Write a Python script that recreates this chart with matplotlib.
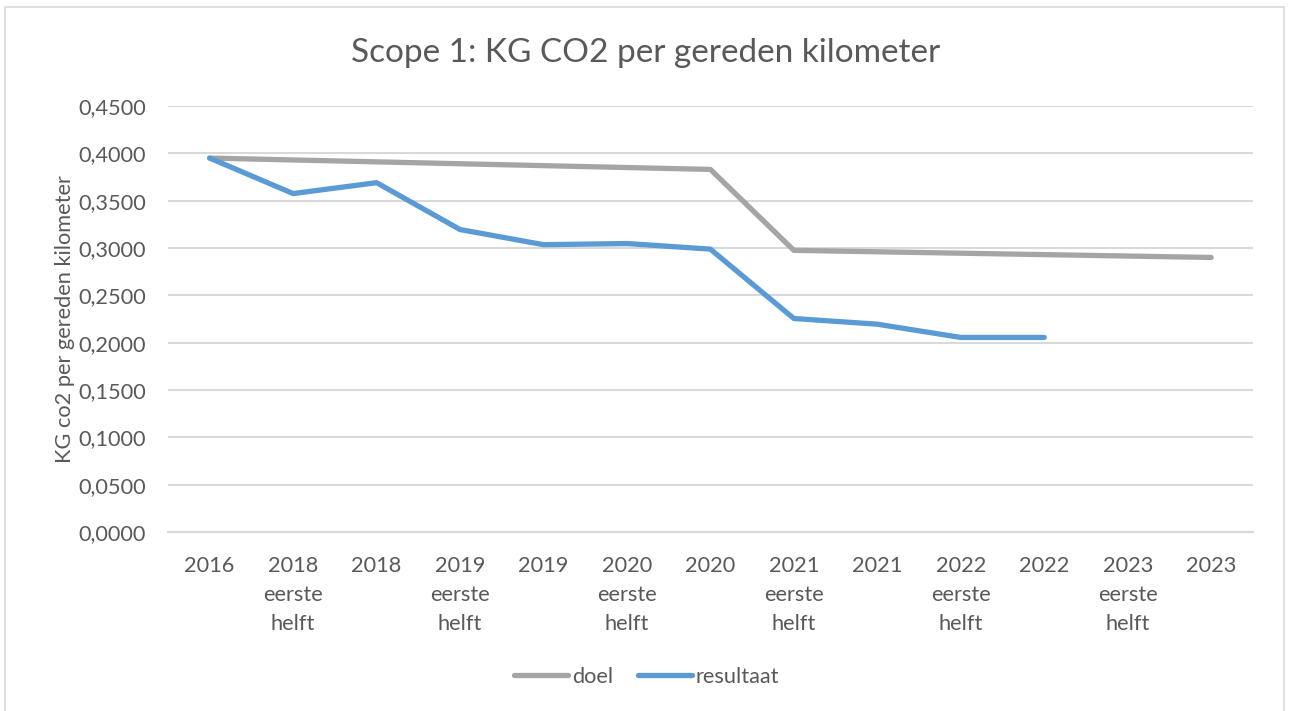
import matplotlib.pyplot as plt
from matplotlib.patches import Rectangle
from matplotlib.ticker import FuncFormatter

plt.rcParams['font.family'] = ['Lato', 'DejaVu Sans']

categories = ['2016', '2018\neerste\nhelft', '2018', '2019\neerste\nhelft', '2019',
              '2020\neerste\nhelft', '2020', '2021\neerste\nhelft', '2021',
              '2022\neerste\nhelft', '2022', '2023\neerste\nhelft', '2023']
doel = [0.395, 0.393, 0.391, 0.389, 0.387, 0.385, 0.383,
        0.2975, 0.2960, 0.2945, 0.2930, 0.2915, 0.2900]
resultaat = [0.395, 0.3575, 0.369, 0.3195, 0.3035, 0.3047, 0.2988,
             0.2255, 0.2195, 0.2055, 0.2055]

text_color = '#595959'
fs = 15.7

fig = plt.figure(figsize=(13.04, 7.11), dpi=100)
ax = fig.add_axes([0.1288, 0.2518, 0.832, 0.5991])

x = list(range(len(categories)))
ax.plot(x, doel, color='#A5A5A5', lw=3.8, solid_capstyle='round', label='doel')
ax.plot(x[:len(resultaat)], resultaat, color='#5B9BD5', lw=3.8,
        solid_capstyle='round', label='resultaat')

ax.set_xlim(-0.5, len(categories) - 0.5)
ax.set_ylim(0, 0.45)
ax.set_yticks([i * 0.05 for i in range(10)])
ax.yaxis.set_major_formatter(FuncFormatter(lambda v, p: f'{v:.4f}'.replace('.', ',')))
ax.set_xticks(x)
ax.set_xticklabels(categories, linespacing=1.57, va='top')
ax.tick_params(length=0, labelsize=fs, labelcolor=text_color)
ax.tick_params(axis='x', pad=17)
ax.tick_params(axis='y', pad=16)
ax.grid(axis='y', color='#D9D9D9', lw=1.5)
ax.set_axisbelow(True)
for s in ['top', 'right', 'left']:
    ax.spines[s].set_visible(False)
ax.spines['bottom'].set_color('#D9D9D9')
ax.spines['bottom'].set_linewidth(1.5)

ax.set_ylabel('KG co2 per gereden kilometer', fontsize=fs, color=text_color, labelpad=2)
fig.text(0.495, 0.926, 'Scope 1: KG CO2 per gereden kilometer', ha='center', va='center',
         fontsize=24, color=text_color)

leg = fig.legend(loc='center', bbox_to_anchor=(0.496, 0.048), ncol=2, frameon=False,
                 fontsize=fs, handlelength=2.45, handletextpad=0.2, columnspacing=1.15)
for t in leg.get_texts():
    t.set_color(text_color)

fig.patches.append(Rectangle((5 / 1304, -0.05), 1279 / 1304, 1.04, transform=fig.transFigure,
                             fill=False, edgecolor='#D9D9D9', lw=1.2))

fig.savefig('out.png', dpi=100)
